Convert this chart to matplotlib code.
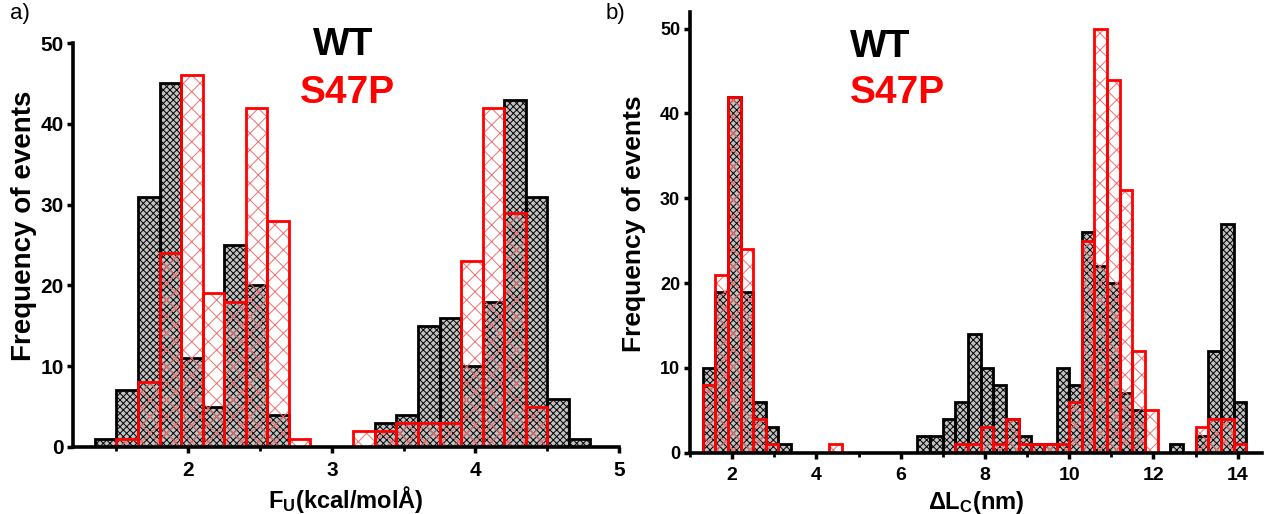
import numpy as np
import matplotlib
matplotlib.use("Agg")
import matplotlib.pyplot as plt
from matplotlib import font_manager
from matplotlib.ticker import MultipleLocator

# ---------------- data ----------------
fu_edges = np.round(np.arange(1.35, 4.8001, 0.15), 3)
fu_wt = [1, 7, 31, 45, 11, 5, 25, 20, 4, 0, 0, 0, 0, 3, 4, 15, 16, 10, 18, 43, 31, 6, 1]
fu_s47p = [0, 1, 8, 24, 46, 19, 18, 42, 28, 1, 0, 0, 2, 2, 3, 3, 3, 23, 42, 29, 5, 0, 0]

lc_edges = np.round(np.arange(1.3, 14.2001, 0.3), 3)
lc_wt = [10, 19, 42, 19, 6, 3, 1, 0, 0, 0, 0, 0, 0, 0, 0, 0, 0, 2, 2, 4, 6, 14, 10, 8, 4,
         2, 1, 1, 10, 8, 26, 22, 20, 7, 5, 0, 0, 1, 0, 2, 12, 27, 6]
lc_s47p = [8, 21, 42, 24, 4, 1, 0, 0, 0, 0, 1, 0, 0, 0, 0, 0, 0, 0, 0, 0, 1, 1, 3, 1, 4,
           1, 1, 1, 1, 6, 25, 50, 44, 31, 12, 5, 0, 0, 0, 3, 4, 4, 1]

fu_ticks = [2, 3, 4, 5]
lc_ticks = [2, 4, 6, 8, 10, 12, 14]
y_ticks = [0, 10, 20, 30, 40, 50]
series_names = ["WT", "S47P"]

# ---------------- fonts ----------------
avail = {f.name for f in font_manager.fontManager.ttflist}
narrow = "Liberation Sans Narrow" if "Liberation Sans Narrow" in avail else "Liberation Sans"
wide = "Liberation Sans"
plt.rcParams["mathtext.fontset"] = "custom"
plt.rcParams["mathtext.bf"] = narrow + ":bold"
plt.rcParams["mathtext.rm"] = narrow + ":bold"
plt.rcParams["mathtext.default"] = "bf"
plt.rcParams["hatch.linewidth"] = 0.7

fig = plt.figure(figsize=(12.69, 5.14), dpi=100)
ax1 = fig.add_axes([0.0578, 0.1304, 0.4878 - 0.0578, 0.9163 - 0.1304])
ax2 = fig.add_axes([0.5437, 0.1193, 0.9943 - 0.5437, 0.9772 - 0.1193])


def draw(ax, edges, wt, mut):
    edges = np.asarray(edges)
    left = edges[:-1]
    width = np.diff(edges)
    wt = np.asarray(wt)
    mut = np.asarray(mut)
    m = wt > 0
    ax.bar(left[m], wt[m], width=width[m], align="edge", facecolor="#c2c2c2",
           edgecolor="black", hatch="xxxxx", linewidth=0, zorder=1)
    ax.bar(left[m], wt[m], width=width[m], align="edge", facecolor="none",
           edgecolor="black", linewidth=2.0, zorder=1.1)
    m = mut > 0
    ax.bar(left[m], mut[m], width=width[m], align="edge", facecolor="none",
           edgecolor="#f07070", hatch="xx", linewidth=0, zorder=1.2)
    ax.bar(left[m], mut[m], width=width[m], align="edge", facecolor="none",
           edgecolor="#ff0000", linewidth=2.0, zorder=1.3)
    for s in ["top", "right"]:
        ax.spines[s].set_visible(False)
    for s in ["left", "bottom"]:
        ax.spines[s].set_linewidth(2.6)
        ax.spines[s].set_zorder(3)
    ax.tick_params(which="major", direction="out", length=4, width=2.5)
    ax.tick_params(axis="x", which="minor", direction="out", length=3, width=2)
    ax.tick_params(axis="y", which="minor", left=False)


draw(ax1, fu_edges, fu_wt, fu_s47p)
draw(ax2, lc_edges, lc_wt, lc_s47p)

ax1.set_xlim(1.2, 5.0)
ax1.set_ylim(0, 50)
ax1.set_xticks(fu_ticks)
ax1.xaxis.set_minor_locator(MultipleLocator(0.5))
ax1.set_yticks(y_ticks)
for lab in ax1.get_xticklabels():
    lab.set_fontfamily(narrow); lab.set_fontweight("bold"); lab.set_fontsize(15)
for lab in ax1.get_yticklabels():
    lab.set_fontfamily(narrow); lab.set_fontweight("bold"); lab.set_fontsize(15)
ax1.tick_params(axis="x", pad=6)
ax1.tick_params(axis="y", pad=3)

ax2.set_xlim(1.0, 14.57)
ax2.set_ylim(0, 52)
ax2.set_xticks(lc_ticks)
ax2.xaxis.set_minor_locator(MultipleLocator(1))
ax2.set_yticks(y_ticks)
for lab in ax2.get_xticklabels():
    lab.set_fontfamily(narrow); lab.set_fontweight("bold"); lab.set_fontsize(14)
for lab in ax2.get_yticklabels():
    lab.set_fontfamily(narrow); lab.set_fontweight("bold"); lab.set_fontsize(13)
ax2.tick_params(axis="x", pad=6)
ax2.tick_params(axis="y", pad=3)

ax1.set_xlabel(r"F$_{\mathbf{U}}$(kcal/molÅ)", fontfamily=narrow, fontweight="bold",
               fontsize=17, labelpad=3)
ax2.set_xlabel(r"$\Delta$L$_{\mathbf{C}}$(nm)", fontfamily=narrow, fontweight="bold",
               fontsize=17, labelpad=4)
ax1.set_ylabel("Frequency of events", fontfamily=wide, fontweight="bold", fontsize=20)
ax2.set_ylabel("Frequency of events", fontfamily=wide, fontweight="bold", fontsize=19)
ax1.yaxis.set_label_coords(-0.067, 0.547)
ax2.yaxis.set_label_coords(-0.077, 0.52)

H = 514.0
W = 1269.0
fig.text(10 / W, 1 - 3 / H, "a)", fontfamily=wide, fontsize=16, va="top", ha="left")
fig.text(606 / W, 1 - 3 / H, "b)", fontfamily=wide, fontsize=16, va="top", ha="left")
fig.text(313 / W, 1 - 55 / H, series_names[0], fontfamily=wide, fontweight="bold",
         fontsize=28, color="black", va="baseline", ha="left")
fig.text(300 / W, 1 - 103 / H, series_names[1], fontfamily=wide, fontweight="bold",
         fontsize=28, color="#ff0000", va="baseline", ha="left")
fig.text(850 / W, 1 - 57 / H, series_names[0], fontfamily=wide, fontweight="bold",
         fontsize=28, color="black", va="baseline", ha="left")
fig.text(850 / W, 1 - 103 / H, series_names[1], fontfamily=wide, fontweight="bold",
         fontsize=28, color="#ff0000", va="baseline", ha="left")

fig.savefig("out.png", dpi=100)
